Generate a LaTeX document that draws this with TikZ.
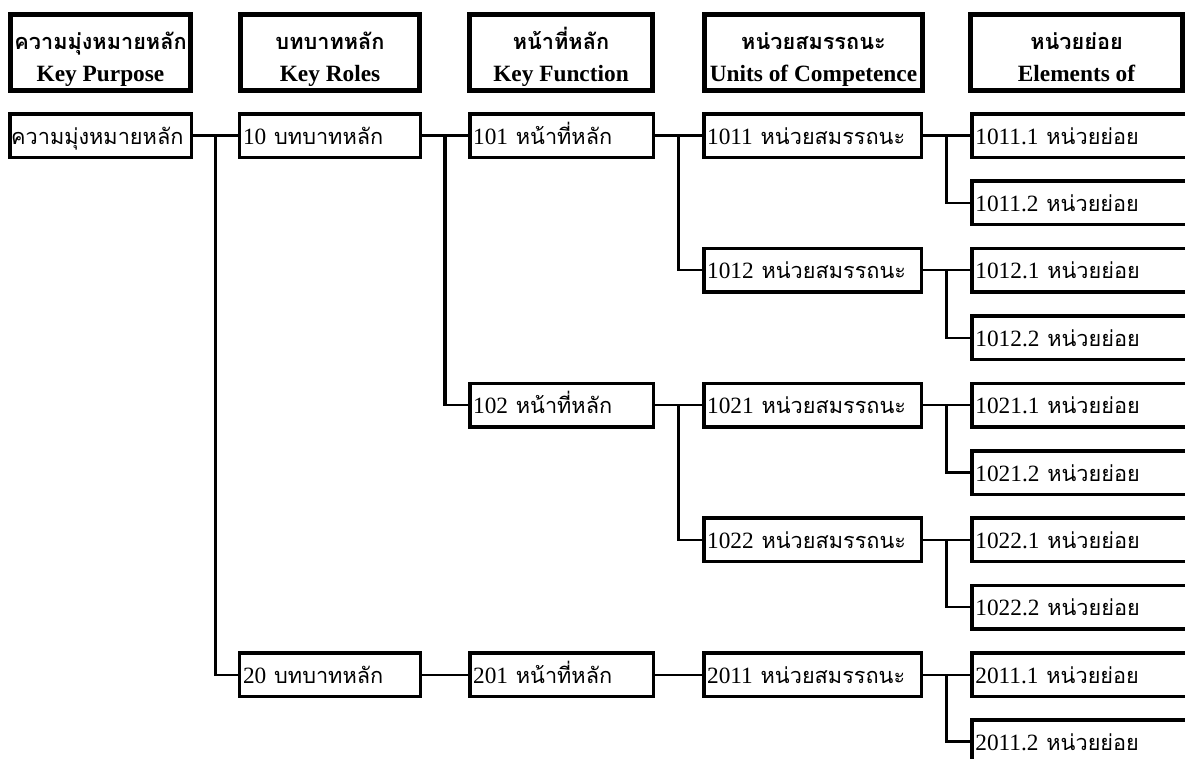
\documentclass[tikz,border=0pt]{standalone}
\usepackage{fontspec}
\setmainfont{Liberation Serif}
\newfontfamily\thai[Script=Thai,Scale=0.93]{Loma}
\usetikzlibrary{calc}
\tikzset{
  box/.style={draw, line width=2.6pt, inner xsep=2.5pt, inner ysep=0pt,
    minimum height=32.6pt, align=left, text height=12.8pt, text depth=0pt,
    font=\fontsize{17.5}{21}\selectfont},
  c1/.style={box, inner xsep=1pt, text width=134.1pt},
  c2/.style={box, text width=130.4pt},
  c3/.style={box, text width=132.6pt},
  c4/.style={box, text width=158.1pt},
  c5/.style={box, text width=166pt},
  head/.style={draw, line width=3.5pt, inner sep=0pt, minimum height=57.3pt,
    align=center, font=\bfseries\fontsize{17.5}{24}\selectfont,
    text height=48pt, text depth=4pt},
  hline/.style={line width=1.7pt},
  vline/.style={line width=2.3pt, shorten >=-0.85pt},
}
\newcommand\hlink[2]{%
  \coordinate (m) at ($(#1.east)!.5!(#2.west)$);
  \draw[hline] (#1.east) -- (m |- #1.east);
  \draw[hline] (m |- #2.west) -- (#2.west);}
\newcommand\vbus[2]{%
  \coordinate (m) at ($(#1.east)!.5!(#2.west)$);
  \draw[vline] (m |- #1.east) -- (m |- #2.west);}
\begin{document}
\begin{tikzpicture}[x=0.75pt,y=-0.75pt]
\useasboundingbox (0,0) rectangle (1185,758);
\clip (0,0) rectangle (1185,758);
% headers
\node[head, minimum width=135.3pt] (h1) at (100.5,52.5) {{\thai ความมุ่งหมายหลัก}\\Key Purpose};
\node[head, minimum width=134.6pt] (h2) at (330,52.5) {{\thai บทบาทหลัก}\\Key Roles};
\node[head, minimum width=137.6pt] (h3) at (561,52.5) {{\thai หน้าที่หลัก}\\Key Function};
\node[head, minimum width=163.8pt] (h4) at (813.5,52.5) {{\thai หน่วยสมรรถนะ}\\Units of Competence};
\node[head, minimum width=159.3pt] (h5) at (1076.5,52.5) {{\thai หน่วยย่อย}\\Elements of};
% rows
\node[c1] (kp) at (100.5,135.5) {{\thai ความมุ่งหมายหลัก}};
\node[c2] (r10) at (330,135.5) {10 {\thai บทบาทหลัก}};
\node[c2] (r20) at (330,674.7) {20 {\thai บทบาทหลัก}};
\node[c3] (f101) at (561.5,135.5) {101 {\thai หน้าที่หลัก}};
\node[c3] (f102) at (561.5,405.1) {102 {\thai หน้าที่หลัก}};
\node[c3] (f201) at (561.5,674.7) {201 {\thai หน้าที่หลัก}};
\node[c4] (u1011) at (812.5,135.5) {1011 {\thai หน่วยสมรรถนะ}};
\node[c4] (u1012) at (812.5,270.3) {1012 {\thai หน่วยสมรรถนะ}};
\node[c4] (u1021) at (812.5,405.1) {1021 {\thai หน่วยสมรรถนะ}};
\node[c4] (u1022) at (812.5,539.9) {1022 {\thai หน่วยสมรรถนะ}};
\node[c4] (u2011) at (812.5,674.7) {2011 {\thai หน่วยสมรรถนะ}};
\node[c5] (e10111) at (1086,135.5) {1011.1 {\thai หน่วยย่อย}};
\node[c5] (e10112) at (1086,202.9) {1011.2 {\thai หน่วยย่อย}};
\node[c5] (e10121) at (1086,270.3) {1012.1 {\thai หน่วยย่อย}};
\node[c5] (e10122) at (1086,337.7) {1012.2 {\thai หน่วยย่อย}};
\node[c5] (e10211) at (1086,405.1) {1021.1 {\thai หน่วยย่อย}};
\node[c5] (e10212) at (1086,472.5) {1021.2 {\thai หน่วยย่อย}};
\node[c5] (e10221) at (1086,539.9) {1022.1 {\thai หน่วยย่อย}};
\node[c5] (e10222) at (1086,607.3) {1022.2 {\thai หน่วยย่อย}};
\node[c5] (e20111) at (1086,674.7) {2011.1 {\thai หน่วยย่อย}};
\node[c5] (e20112) at (1086,741.5) {2011.2 {\thai หน่วยย่อย}};
% connectors
\hlink{kp}{r10} \hlink{kp}{r20} \vbus{kp}{r20}
\hlink{r10}{f101} \hlink{r10}{f102} \vbus{r10}{f102}
\hlink{r20}{f201}
\hlink{f101}{u1011} \hlink{f101}{u1012} \vbus{f101}{u1012}
\hlink{f102}{u1021} \hlink{f102}{u1022} \vbus{f102}{u1022}
\hlink{f201}{u2011}
\hlink{u1011}{e10111} \hlink{u1011}{e10112} \vbus{u1011}{e10112}
\hlink{u1012}{e10121} \hlink{u1012}{e10122} \vbus{u1012}{e10122}
\hlink{u1021}{e10211} \hlink{u1021}{e10212} \vbus{u1021}{e10212}
\hlink{u1022}{e10221} \hlink{u1022}{e10222} \vbus{u1022}{e10222}
\hlink{u2011}{e20111} \hlink{u2011}{e20112} \vbus{u2011}{e20112}
\end{tikzpicture}
\end{document}
